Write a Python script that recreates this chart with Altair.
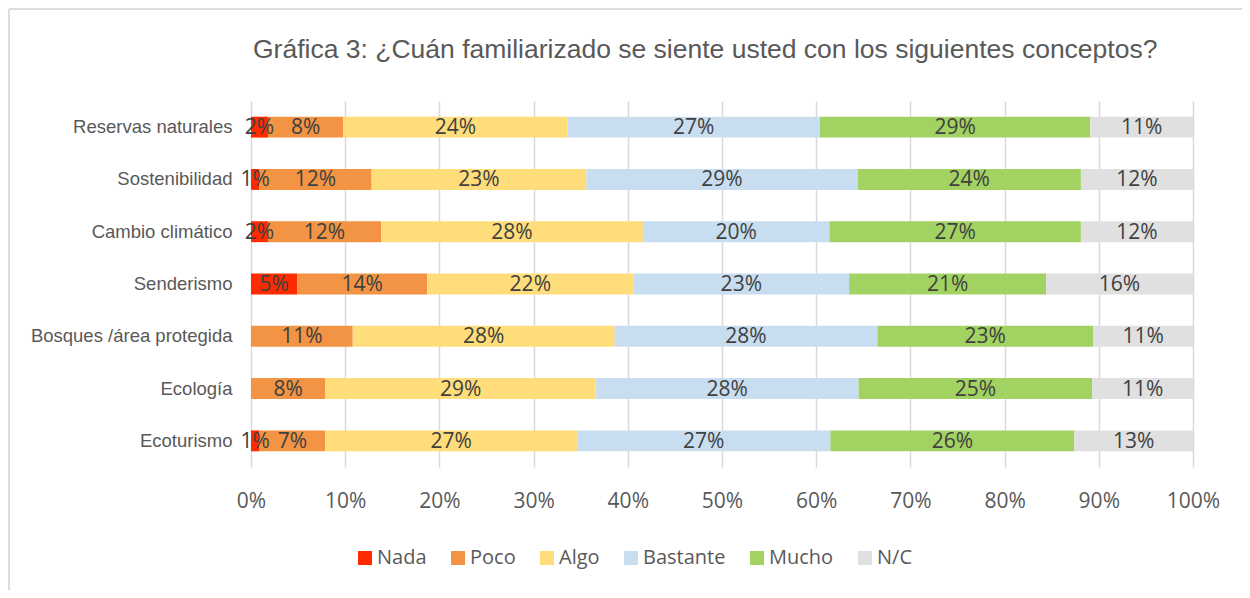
import altair as alt
import pandas as pd

title_text = "Gráfica 3: ¿Cuán familiarizado se siente usted con los siguientes conceptos?"
categories = ["Reservas naturales", "Sostenibilidad", "Cambio climático", "Senderismo",
              "Bosques /área protegida", "Ecología", "Ecoturismo"]
levels = ["Nada", "Poco", "Algo", "Bastante", "Mucho", "N/C"]
colors = ["#FF2A00", "#F29444", "#FFDD7A", "#C8DEF0", "#A2D362", "#E0E0E0"]

nada     = [1.8, 0.9, 1.8, 4.9, 0.0, 0.0, 0.9]
poco     = [8.0, 11.9, 12.0, 13.8, 10.8, 7.9, 7.0]
algo     = [23.8, 22.8, 27.8, 21.9, 27.8, 28.7, 26.7]
bastante = [26.8, 28.8, 19.8, 22.9, 27.9, 27.9, 26.9]
mucho    = [28.7, 23.7, 26.7, 20.9, 22.9, 24.8, 25.9]
nc       = [10.9, 11.9, 11.9, 15.6, 10.6, 10.7, 12.6]

x_ticks = [0, 0.1, 0.2, 0.3, 0.4, 0.5, 0.6, 0.7, 0.8, 0.9, 1.0]

series = [nada, poco, algo, bastante, mucho, nc]
rows = []
for li, (lev, vals) in enumerate(zip(levels, series)):
    for cat, v in zip(categories, vals):
        rows.append({"cat": cat, "level": lev, "order": li, "value": v})
df = pd.DataFrame(rows)

base = alt.Chart(df).transform_stack(
    stack="value", groupby=["cat"], as_=["x0", "x1"],
    sort=[alt.SortField("order", order="ascending")], offset="normalize"
).transform_calculate(
    xm="(datum.x0 + datum.x1) / 2",
    label="format(datum.value / 100, '.0%')"
)

y_enc = alt.Y("cat:N", sort=categories, title=None,
              scale=alt.Scale(paddingInner=0.6, paddingOuter=0.3),
              axis=alt.Axis(labelFont="Liberation Sans", labelFontSize=18.5,
                            labelColor="#595959", labelPadding=19,
                            ticks=False, domain=False, labelLimit=300))

bars = base.mark_bar().encode(
    x=alt.X("x0:Q", title=None,
            scale=alt.Scale(domain=[0, 1], nice=False),
            axis=alt.Axis(values=x_ticks, format=".0%", labelFont="Open Sans",
                          labelFontSize=21, labelColor="#595959", labelPadding=23,
                          labelFlush=False, ticks=False, domain=False, grid=True,
                          gridColor="#D9D9D9", gridWidth=1.5)),
    x2="x1:Q",
    y=y_enc,
    color=alt.Color("level:N", sort=levels,
                    scale=alt.Scale(domain=levels, range=colors),
                    legend=alt.Legend(title=None, orient="none", direction="horizontal",
                                      legendX=104, legendY=447, symbolType="square",
                                      symbolSize=196, symbolStrokeWidth=0,
                                      labelFont="Open Sans", labelFontSize=20,
                                      labelColor="#595959", columnPadding=21,
                                      labelOffset=2, padding=0)),
)

labels = base.transform_filter("datum.value > 0").mark_text(
    font="Open Sans", fontSize=21, color="#404040", baseline="middle", dy=1
).encode(
    x="xm:Q",
    y=alt.Y("cat:N", sort=categories),
    text="label:N",
)

deco = alt.Chart(pd.DataFrame({"t": [title_text]}))

title = deco.mark_text(
    font="Liberation Sans", fontSize=26.5, color="#595959", align="left", baseline="alphabetic"
).encode(x=alt.value(2), y=alt.value(-43), text="t:N")

frame_left = deco.mark_rule(color="#DDDDDD", strokeWidth=2).encode(
    x=alt.value(-242), y=alt.value(-92), y2=alt.value(520)
)
frame_top = deco.mark_rule(color="#DDDDDD", strokeWidth=2).encode(
    x=alt.value(-242), x2=alt.value(1010), y=alt.value(-92)
)

chart = alt.layer(frame_left, frame_top, bars, labels, title).properties(
    width=942, height=366,
    autosize=alt.AutoSizeParams(type="none"),
    padding={"left": 243, "top": 93, "right": 49, "bottom": 123},
).configure_view(stroke=None)

chart.save("out.html", embed_options={"renderer": "svg", "actions": False})
